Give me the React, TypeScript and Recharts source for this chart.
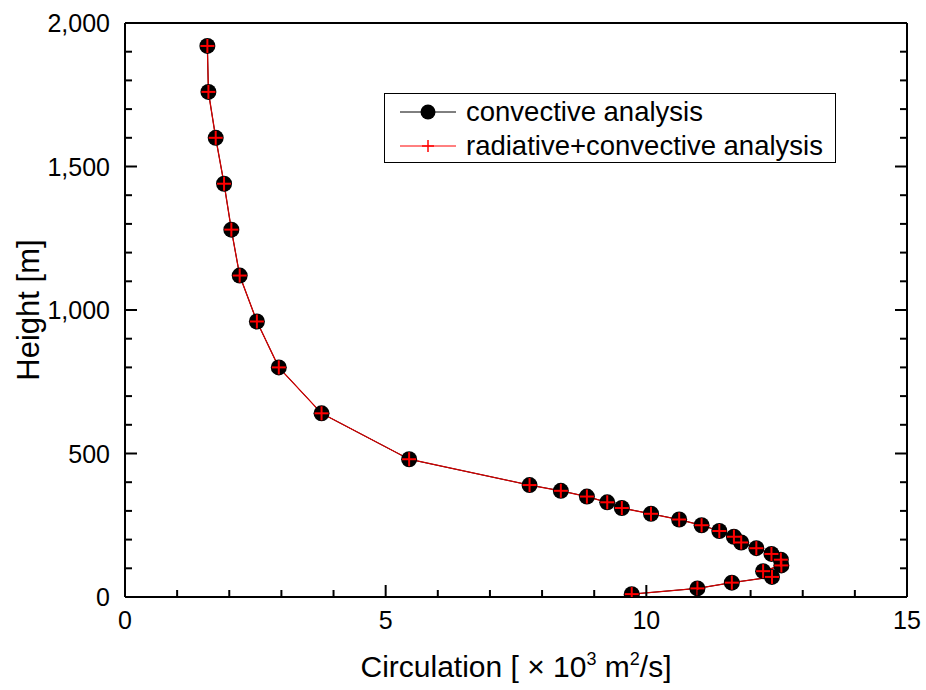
import React from "react";
import { Legend, ScatterChart, Scatter, XAxis, YAxis } from "recharts";

// heights [m], top of profile first (order of the plotted polyline)
const heights = [
  1920, 1760, 1600, 1440, 1280, 1120, 960, 800, 640, 480,
  390, 370, 350, 330, 310, 290, 270, 250, 230, 210,
  190, 170, 150, 130, 110, 90, 70, 50, 30, 10,
];
// circulation [x10^3 m^2/s]
const convective = [
  1.58, 1.6, 1.74, 1.9, 2.04, 2.2, 2.53, 2.95, 3.77, 5.45,
  7.76, 8.36, 8.86, 9.25, 9.53, 10.09, 10.63, 11.06, 11.4, 11.68,
  11.82, 12.11, 12.4, 12.58, 12.59, 12.24, 12.41, 11.64, 10.98, 9.72,
];
const radiativeConvective = [
  1.58, 1.6, 1.74, 1.9, 2.04, 2.2, 2.53, 2.95, 3.77, 5.45,
  7.76, 8.36, 8.86, 9.25, 9.53, 10.09, 10.63, 11.06, 11.4, 11.68,
  11.82, 12.11, 12.4, 12.58, 12.59, 12.24, 12.41, 11.64, 10.98, 9.72,
];
const xTicks = Array.from({ length: 16 }, (_, i) => i); // 0..15, majors every 5
const yTicks = Array.from({ length: 21 }, (_, i) => i * 100); // 0..2000, majors every 500
const seriesNames = ["convective analysis", "radiative+convective analysis"];

const FONT = '"Liberation Sans", Arial, sans-serif';

const convData = heights.map((h, i) => ({ x: convective[i], y: h }));
const radData = heights.map((h, i) => ({ x: radiativeConvective[i], y: h }));

const BottomTick = (p: any) => {
  const major = p.payload.value % 5 === 0;
  return (
    <g>
      <line x1={p.x} x2={p.x} y1={p.y} y2={p.y - (major ? 12 : 7)} stroke="#000" strokeWidth={2} />
      {major && (
        <text x={p.x} y={p.y + 32} textAnchor="middle" fontSize={25} fontFamily={FONT} fill="#000">
          {p.payload.value}
        </text>
      )}
    </g>
  );
};
const TopTick = (p: any) => {
  const major = p.payload.value % 5 === 0;
  return <line x1={p.x} x2={p.x} y1={p.y} y2={p.y + (major ? 12 : 7)} stroke="#000" strokeWidth={2} />;
};
const LeftTick = (p: any) => {
  const major = p.payload.value % 500 === 0;
  return (
    <g>
      <line x1={p.x} x2={p.x + (major ? 12 : 7)} y1={p.y} y2={p.y} stroke="#000" strokeWidth={2} />
      {major && (
        <text x={p.x - 15} y={p.y + 9} textAnchor="end" fontSize={25} fontFamily={FONT} fill="#000">
          {p.payload.value.toLocaleString("en-US")}
        </text>
      )}
    </g>
  );
};
const RightTick = (p: any) => {
  const major = p.payload.value % 500 === 0;
  return <line x1={p.x} x2={p.x - (major ? 12 : 7)} y1={p.y} y2={p.y} stroke="#000" strokeWidth={2} />;
};

const XTitle = () => (
  <text x={516} y={677} textAnchor="middle" fontSize={30} fontFamily={FONT} fill="#000">
    Circulation [ × 10<tspan fontSize={18} dy={-12}>3</tspan>
    <tspan dy={12}> m</tspan><tspan fontSize={18} dy={-12}>2</tspan><tspan dy={12}>/s]</tspan>
  </text>
);
const YTitle = () => (
  <text transform="translate(39,310) rotate(-90)" textAnchor="middle" fontSize={31} fontFamily={FONT} fill="#000">
    Height [m]
  </text>
);

const Dot = (p: any) => <circle cx={p.cx} cy={p.cy} r={8} fill="#000" />;
const Plus = (p: any) => (
  <g stroke="#ff0000" strokeWidth={2}>
    <line x1={p.cx - 7} x2={p.cx + 7} y1={p.cy} y2={p.cy} />
    <line x1={p.cx} x2={p.cx} y1={p.cy - 7} y2={p.cy + 7} />
  </g>
);
const Nothing = () => <g />;

const LegendBox = () => {
  const row = (top: number, color: string, marker: React.ReactNode, label: string) => (
    <div style={{ position: "absolute", left: 0, top, height: 30, width: "100%" }}>
      <svg width={60} height={30} style={{ position: "absolute", left: 15, top: 0 }}>
        <line x1={0} x2={56} y1={15} y2={15} stroke={color} strokeWidth={1} />
        {marker}
      </svg>
      <span style={{
        position: "absolute", left: 81, top: 0, lineHeight: "30px", fontSize: 27.5, fontFamily: FONT,
        whiteSpace: "nowrap",
      }}>{label}</span>
    </div>
  );
  return (
    <div style={{ position: "relative", width: 452, height: 70, border: "1px solid #000", boxSizing: "border-box", background: "#fff" }}>
      {row(3, "#000", <circle cx={28} cy={15} r={7.5} fill="#000" />, seriesNames[0])}
      {row(37, "#ff0000",
        <g stroke="#ff0000" strokeWidth={1.5}><line x1={22} x2={34} y1={15} y2={15} /><line x1={28} x2={28} y1={9} y2={21} /></g>,
        seriesNames[1])}
    </div>
  );
};

export default function App() {
  return (
    <div style={{ position: "absolute", left: 0, top: 0, width: 926, height: 690, background: "#fff", fontFamily: FONT }}>
      <ScatterChart width={926} height={690} margin={{ top: 13, right: 9, bottom: 33, left: 55 }}>
        <XAxis xAxisId="b" type="number" dataKey="x" domain={[0, 15]} ticks={xTicks} interval={0}
          height={60} tickSize={0} tickMargin={0} tickLine={false} tick={BottomTick}
          axisLine={{ stroke: "#000", strokeWidth: 2 }} allowDataOverflow />
        <XAxis xAxisId="t" orientation="top" type="number" domain={[0, 15]} ticks={xTicks} interval={0}
          height={10} tickSize={0} tickMargin={0} tickLine={false} tick={TopTick}
          axisLine={{ stroke: "#000", strokeWidth: 2 }} allowDataOverflow />
        <YAxis yAxisId="l" type="number" dataKey="y" domain={[0, 2000]} ticks={yTicks} interval={0}
          width={70} tickSize={0} tickMargin={0} tickLine={false} tick={LeftTick}
          axisLine={{ stroke: "#000", strokeWidth: 2 }} allowDataOverflow />
        <YAxis yAxisId="r" orientation="right" type="number" domain={[0, 2000]} ticks={yTicks} interval={0}
          width={10} tickSize={0} tickMargin={0} tickLine={false} tick={RightTick}
          axisLine={{ stroke: "#000", strokeWidth: 2 }} allowDataOverflow />
        <Scatter xAxisId="b" yAxisId="l" data={convData} line={{ stroke: "#000", strokeWidth: 1 }}
          shape={Nothing} isAnimationActive={false} />
        <Scatter xAxisId="b" yAxisId="l" data={radData} line={{ stroke: "#d40000", strokeWidth: 1.3 }}
          shape={Nothing} isAnimationActive={false} />
        <Scatter xAxisId="b" yAxisId="l" name={seriesNames[0]} data={convData} shape={Dot} isAnimationActive={false} />
        <Scatter xAxisId="b" yAxisId="l" name={seriesNames[1]} data={radData} shape={Plus} isAnimationActive={false} />
        <Legend layout="vertical" align="center" verticalAlign="middle" content={LegendBox}
          wrapperStyle={{ left: 384, top: 93, width: 452, height: 70 }} />
      </ScatterChart>
      <svg width={926} height={690} style={{ position: "absolute", left: 0, top: 0, pointerEvents: "none" }}>
        <XTitle />
        <YTitle />
      </svg>
    </div>
  );
}
